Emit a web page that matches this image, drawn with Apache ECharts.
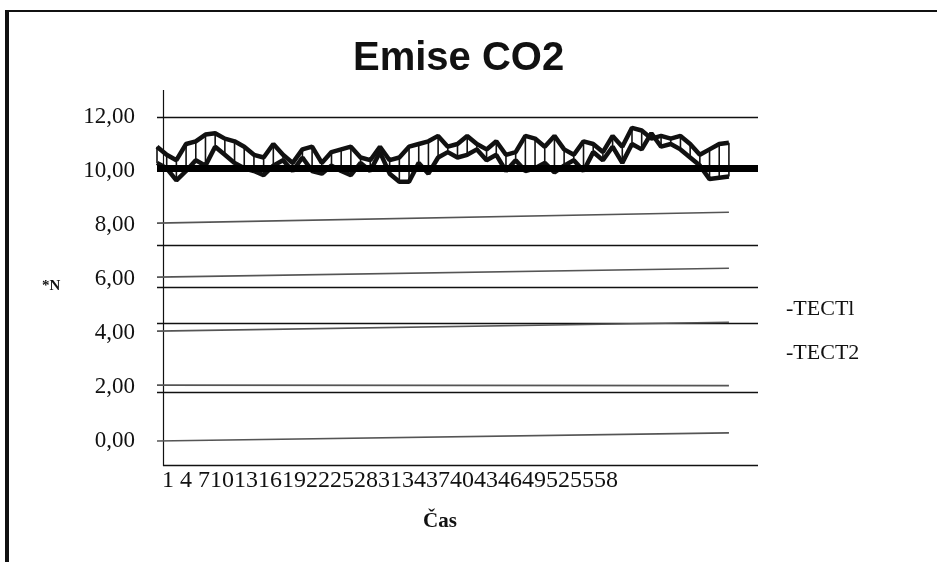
<!DOCTYPE html>
<html><head><meta charset="utf-8">
<script src="https://cdn.jsdelivr.net/npm/echarts@6/dist/echarts.min.js"></script>
<style>html,body{margin:0;padding:0;background:#fff}#c{width:937px;height:562px}</style>
</head><body><div id="c"></div>
<script>
// ---- data ----
const categories = ['1','2','3','4','5','6','7','8','9','10','11','12','13','14','15','16','17','18','19','20',
  '21','22','23','24','25','26','27','28','29','30','31','32','33','34','35','36','37','38','39','40',
  '41','42','43','44','45','46','47','48','49','50','51','52','53','54','55','56','57','58','59','60',
  '61','62','63'];
const tickLabels = ['1','4','7','10','13','16','19','22','25','28','31','34','37','40','43','46','49','52','55','58'];
const tect1 = [10.9,10.6,10.4,11.0,11.1,11.35,11.4,11.2,11.1,10.9,10.6,10.5,11.0,10.6,10.3,10.8,10.9,10.3,10.7,10.8,
  10.9,10.5,10.4,10.9,10.4,10.5,10.9,11.0,11.1,11.3,10.9,11.0,11.3,11.0,10.8,11.1,10.6,10.7,11.3,11.2,
  10.9,11.3,10.8,10.6,11.1,11.0,10.7,11.3,10.9,11.6,11.5,11.2,11.3,11.2,11.3,11.0,10.6,10.8,11.0,11.05];
const tect2 = [10.3,10.1,9.65,10.0,10.4,10.2,10.9,10.6,10.3,10.1,10.0,9.85,10.2,10.4,10.0,10.5,10.0,9.9,10.2,10.0,
  9.85,10.3,10.0,10.7,9.9,9.6,9.6,10.3,9.9,10.5,10.7,10.5,10.6,10.8,10.4,10.6,10.0,10.4,10.0,10.1,
  10.3,9.95,10.2,10.4,10.0,10.7,10.4,10.9,10.3,11.0,10.8,11.4,10.9,11.0,10.8,10.5,10.2,9.7,9.75,9.8];
const seriesNames = ['TECTl','TECT2'];
const limitValue = 10.1;
// scanned ruling lines
const solidRules = [12.0, 7.25, 5.70, 4.37, 1.81];
const faintRuleStart = [0.0, 2.07, 4.07, 6.07, 8.07];
const faintRuleEnd = [0.3, 2.05, 4.4, 6.4, 8.47];

const tickString = (function(){
  let s = '';
  tickLabels.forEach((t,i)=>{ s += t; if (t.length===1 && i<tickLabels.length-1 && tickLabels[i+1].length===1) s += ' '; });
  return s;
})();

const SERIF = '"Liberation Serif","DejaVu Serif",serif';
const chart = echarts.init(document.getElementById('c'), null, {renderer:'canvas'});

const markData = [];
solidRules.forEach(v => markData.push({yAxis:v, lineStyle:{color:'#111', width:1.3, type:'solid'}}));
faintRuleStart.forEach((v,i) => markData.push([
  {coord:[0, v], lineStyle:{color:'#555', width:1.6, type:'solid'}},
  {coord:[tect1.length-1, faintRuleEnd[i]]}
]));
markData.push({yAxis:limitValue, lineStyle:{color:'#000', width:7, type:'solid'}});

const connectors = tect1.map((v,i)=>[i, v, tect2[i]]);

chart.setOption({
  animation:false,
  backgroundColor:'#fff',
  title:{text:'Emise CO2', left:348, top:34, textStyle:{fontFamily:'"Liberation Sans",Arial,sans-serif', fontWeight:'bold', fontSize:40, color:'#111'}},
  legend:{orient:'vertical', left:775, top:293, itemWidth:0, itemHeight:0, itemGap:22,
    formatter: n => '-' + n,
    textStyle:{fontFamily:SERIF, fontSize:22, color:'#111'}, data:seriesNames},
  grid:{left:157, right:179, top:117, bottom:121, containLabel:false},
  xAxis:{type:'category', data:categories, boundaryGap:false,
    axisLine:{show:false}, axisTick:{show:false}, axisLabel:{show:false}, splitLine:{show:false}},
  yAxis:{type:'value', min:0, max:12, interval:2,
    axisLine:{show:false}, axisTick:{show:false}, splitLine:{show:false},
    axisLabel:{margin:22, fontFamily:SERIF, fontSize:23, color:'#111',
      formatter: v => v.toFixed(2).replace('.', ',')}},
  graphic:[
    {type:'line', shape:{x1:6, y1:11, x2:937, y2:11}, style:{stroke:'#111', lineWidth:2}},
    {type:'line', shape:{x1:7, y1:10, x2:7, y2:562}, style:{stroke:'#111', lineWidth:4}},
    {type:'line', shape:{x1:163.5, y1:90, x2:163.5, y2:466}, style:{stroke:'#111', lineWidth:1.2}},
    {type:'line', shape:{x1:163, y1:465.5, x2:758, y2:465.5}, style:{stroke:'#111', lineWidth:1.3}},
    {type:'text', left:162, top:469, style:{text:tickString, font:'24px "Liberation Serif",serif', fill:'#111'}},
    {type:'text', left:423, top:511, style:{text:'Čas', font:'bold 21px "Liberation Serif",serif', fill:'#111'}},
    {type:'text', left:42, top:279, style:{text:'*N', font:'bold 15px "Liberation Serif",serif', fill:'#111'}}
  ],
  series:[
    {name:seriesNames[0], type:'line', data:tect1, symbol:'none', lineStyle:{color:'#111', width:4.5}, itemStyle:{color:'#111'},
      markLine:{silent:true, symbol:['none','none'], label:{show:false}, data:markData}, z:3},
    {name:seriesNames[1], type:'line', data:tect2, symbol:'none', lineStyle:{color:'#111', width:4.5}, itemStyle:{color:'#111'}, z:3},
    {type:'custom', data:connectors, encode:{x:0, y:[1,2]}, z:2,
      renderItem:function(params, api){
        const a = api.coord([api.value(0), api.value(1)]);
        const b = api.coord([api.value(0), api.value(2)]);
        return {type:'line', shape:{x1:a[0], y1:a[1], x2:b[0], y2:b[1]}, style:{stroke:'#111', lineWidth:1.6}};
      }}
  ]
});
</script></body></html>
